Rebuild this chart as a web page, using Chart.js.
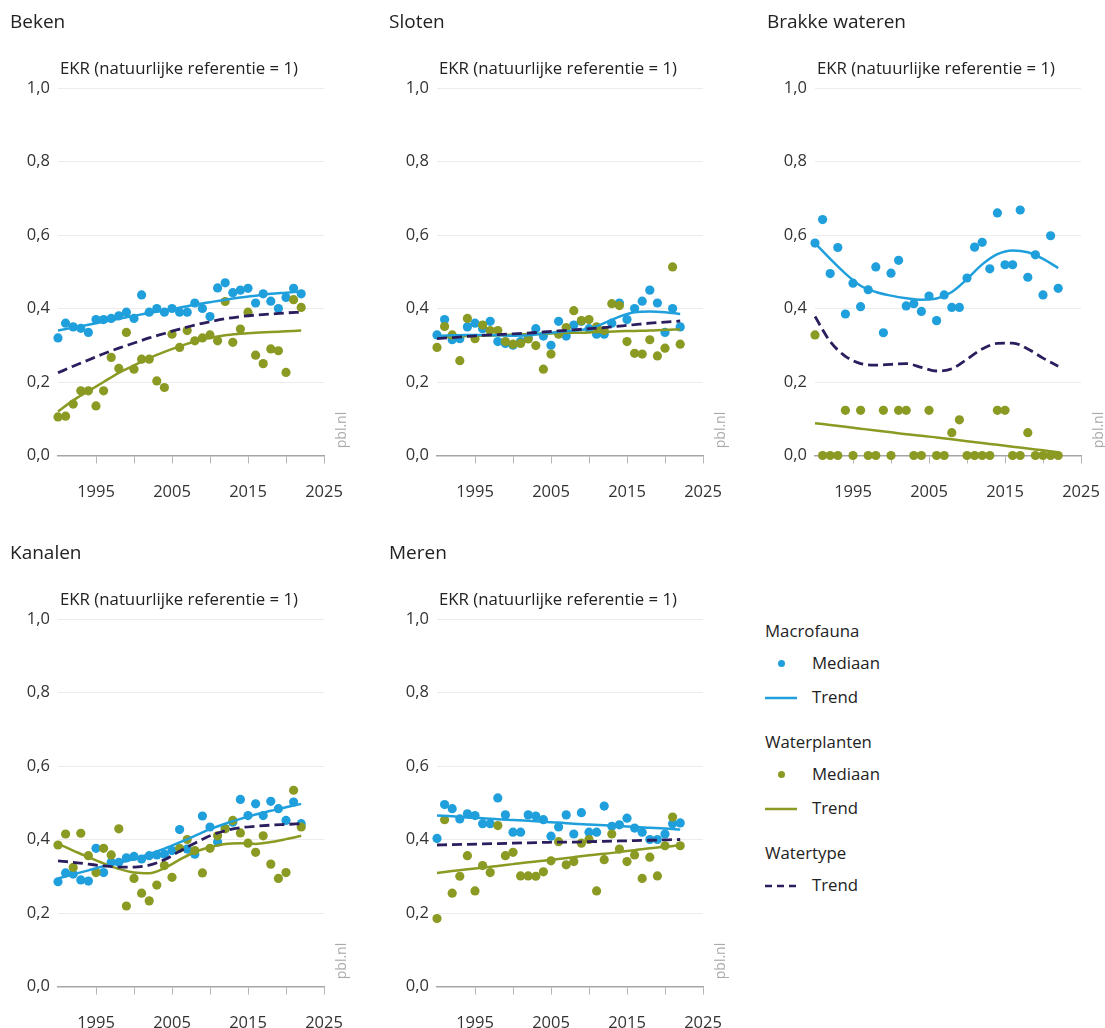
<!DOCTYPE html>
<html>
<head>
<meta charset="utf-8">
<script src="https://cdn.jsdelivr.net/npm/chart.js@4/dist/chart.umd.min.js"></script>
<style>
  html, body { margin: 0; padding: 0; background: #fff; }
  body { width: 1105px; height: 1028px; position: relative; overflow: hidden; font-family: 'Open Sans', 'Noto Sans', sans-serif; color: #222; }
  .panel { position: absolute; width: 370px; height: 500px; }
  .panel canvas { position: absolute; left: 0; top: 0; }
  .ptitle { position: absolute; left: 10px; top: 8px; font-size: 19px; line-height: 26px; color: #222; white-space: nowrap; }
  .ytitle { position: absolute; left: 60px; top: 57px; font-size: 16.8px; line-height: 22px; color: #222; white-space: nowrap; }
  .pbl { position: absolute; left: 321px; top: 422px; width: 40px; text-align: center; font-size: 14px; line-height: 16px; color: #aaa; transform: rotate(-90deg); transform-origin: center; white-space: nowrap; }
  .lg { position: absolute; font-size: 16.8px; line-height: 22px; white-space: nowrap; color: #222; }
  .lgdot { position: absolute; width: 7px; height: 7px; border-radius: 50%; }
  .lgsvg { position: absolute; }
</style>
</head>
<body>

<script>
// ---------- DATA ----------
const years = [1990,1991,1992,1993,1994,1995,1996,1997,1998,1999,2000,2001,2002,2003,2004,2005,2006,2007,2008,2009,2010,2011,2012,2013,2014,2015,2016,2017,2018,2019,2020,2021,2022];
const trendYears = [1990,1992,1994,1996,1998,2000,2002,2004,2006,2008,2010,2012,2014,2016,2018,2020,2022];
const xTickMarks = [1990, 1995, 2000, 2005, 2010, 2015, 2020, 2025];
const xTicks = [1995, 2005, 2015, 2025];
const yTicks = [0.0, 0.2, 0.4, 0.6, 0.8, 1.0];
const panelNames = ['Beken', 'Sloten', 'Brakke wateren', 'Kanalen', 'Meren'];
const yAxisTitle = 'EKR (natuurlijke referentie = 1)';

// Beken
const bekenMacro = [0.32,0.36,0.35,0.346,0.335,0.37,0.37,0.373,0.38,0.39,0.373,0.437,0.39,0.40,0.39,0.40,0.39,0.39,0.415,0.40,0.378,0.456,0.47,0.443,0.45,0.455,0.415,0.44,0.42,0.40,0.43,0.455,0.44];
const bekenPlant = [0.105,0.107,0.14,0.176,0.176,0.135,0.176,0.267,0.237,0.335,0.235,0.262,0.262,0.203,0.185,0.33,0.294,0.34,0.312,0.32,0.328,0.312,0.419,0.308,0.344,0.39,0.273,0.25,0.29,0.285,0.226,0.424,0.403];
const bekenMacroTrend = [0.34,0.348,0.356,0.364,0.372,0.38,0.388,0.395,0.402,0.41,0.417,0.424,0.43,0.435,0.44,0.443,0.446];
const bekenPlantTrend = [0.12,0.15,0.175,0.20,0.225,0.245,0.265,0.282,0.297,0.31,0.32,0.327,0.331,0.334,0.336,0.338,0.34];
const bekenTypeTrend = [0.225,0.243,0.26,0.277,0.292,0.306,0.32,0.332,0.344,0.355,0.364,0.372,0.378,0.382,0.385,0.388,0.39];

// Sloten
const slotenMacro = [0.328,0.37,0.315,0.318,0.35,0.36,0.345,0.365,0.31,0.305,0.30,0.31,0.32,0.345,0.325,0.30,0.365,0.325,0.355,0.365,0.345,0.33,0.33,0.36,0.415,0.37,0.40,0.42,0.45,0.415,0.335,0.40,0.35];
const slotenPlant = [0.294,0.351,0.328,0.258,0.373,0.318,0.355,0.34,0.34,0.31,0.303,0.305,0.317,0.299,0.235,0.276,0.33,0.348,0.394,0.367,0.37,0.35,0.34,0.413,0.408,0.31,0.278,0.276,0.315,0.271,0.292,0.513,0.303];
const slotenMacroTrend = [0.325,0.327,0.328,0.328,0.327,0.326,0.327,0.332,0.336,0.34,0.345,0.36,0.378,0.39,0.392,0.39,0.385];
const slotenPlantTrend = [0.322,0.323,0.325,0.326,0.327,0.329,0.330,0.331,0.333,0.334,0.335,0.337,0.338,0.339,0.340,0.342,0.343];
const slotenTypeTrend = [0.318,0.321,0.324,0.327,0.329,0.331,0.333,0.336,0.339,0.342,0.345,0.348,0.352,0.356,0.36,0.363,0.366];

// Brakke wateren
const brakMacro = [0.578,0.642,0.495,0.566,0.385,0.469,0.405,0.451,0.513,0.334,0.496,0.531,0.407,0.413,0.392,0.434,0.367,0.437,0.403,0.403,0.483,0.567,0.58,0.508,0.66,0.519,0.519,0.668,0.485,0.546,0.437,0.598,0.455];
const brakPlant = [0.328,0,0,0,0.123,0,0.123,0,0,0.123,0,0.123,0.123,0,0,0.123,0,0,0.062,0.097,0,0,0,0,0.123,0.123,0,0,0.062,0,0,0,0];
const brakMacroTrend = [0.578,0.535,0.495,0.462,0.445,0.435,0.428,0.424,0.427,0.445,0.48,0.52,0.548,0.558,0.553,0.535,0.51];
const brakPlantTrend = [0.088,0.083,0.078,0.073,0.068,0.063,0.058,0.054,0.049,0.044,0.039,0.034,0.029,0.024,0.019,0.014,0.009];
const brakTypeTrend = [0.378,0.31,0.27,0.25,0.246,0.248,0.25,0.24,0.23,0.236,0.262,0.29,0.305,0.306,0.29,0.265,0.243];

// Kanalen
const kanMacro = [0.285,0.309,0.306,0.29,0.287,0.376,0.31,0.338,0.338,0.35,0.354,0.347,0.356,0.358,0.36,0.37,0.427,0.374,0.36,0.464,0.434,0.393,0.43,0.447,0.509,0.465,0.497,0.465,0.504,0.484,0.452,0.502,0.443];
const kanPlant = [0.385,0.415,0.324,0.417,0.356,0.31,0.376,0.358,0.429,0.219,0.294,0.254,0.233,0.276,0.329,0.297,0.376,0.40,0.37,0.309,0.376,0.41,0.429,0.452,0.418,0.39,0.365,0.41,0.333,0.294,0.31,0.534,0.434];
const kanMacroTrend = [0.294,0.305,0.316,0.327,0.337,0.347,0.36,0.375,0.392,0.41,0.428,0.443,0.456,0.468,0.478,0.488,0.497];
const kanPlantTrend = [0.388,0.37,0.352,0.335,0.32,0.31,0.308,0.322,0.345,0.366,0.379,0.388,0.39,0.388,0.393,0.401,0.41];
const kanTypeTrend = [0.342,0.338,0.333,0.328,0.325,0.325,0.33,0.345,0.368,0.39,0.41,0.424,0.432,0.436,0.439,0.441,0.443];

// Meren
const merMacro = [0.403,0.495,0.484,0.456,0.47,0.465,0.443,0.443,0.513,0.467,0.42,0.42,0.467,0.464,0.454,0.409,0.434,0.467,0.415,0.473,0.42,0.42,0.491,0.436,0.44,0.458,0.431,0.42,0.40,0.40,0.415,0.443,0.445];
const merPlant = [0.185,0.454,0.254,0.30,0.356,0.26,0.329,0.31,0.438,0.356,0.365,0.301,0.301,0.30,0.312,0.342,0.394,0.331,0.34,0.39,0.40,0.26,0.345,0.415,0.374,0.34,0.358,0.294,0.352,0.301,0.383,0.461,0.383];
const merMacroTrend = [0.465,0.463,0.46,0.458,0.455,0.453,0.451,0.448,0.446,0.443,0.441,0.439,0.437,0.434,0.432,0.43,0.427];
const merPlantTrend = [0.309,0.314,0.319,0.323,0.328,0.333,0.338,0.342,0.347,0.352,0.357,0.361,0.366,0.371,0.376,0.38,0.385];
const merTypeTrend = [0.385,0.386,0.387,0.388,0.389,0.39,0.391,0.392,0.393,0.393,0.394,0.395,0.396,0.397,0.398,0.399,0.40];

// ---------- STYLE ----------
const BLUE = '#1f9fdb';
const GREEN = '#8a9a22';
const DARK = '#2c1e5e';
const FONT = "'Open Sans', 'Noto Sans', sans-serif";

const panels = [
  { name: panelNames[0], left: 0,   top: 0,   m: bekenMacro, p: bekenPlant, mt: bekenMacroTrend, pt: bekenPlantTrend, tt: bekenTypeTrend },
  { name: panelNames[1], left: 379, top: 0,   m: slotenMacro, p: slotenPlant, mt: slotenMacroTrend, pt: slotenPlantTrend, tt: slotenTypeTrend },
  { name: panelNames[2], left: 757, top: 0,   m: brakMacro, p: brakPlant, mt: brakMacroTrend, pt: brakPlantTrend, tt: brakTypeTrend },
  { name: panelNames[3], left: 0,   top: 531, m: kanMacro, p: kanPlant, mt: kanMacroTrend, pt: kanPlantTrend, tt: kanTypeTrend },
  { name: panelNames[4], left: 379, top: 531, m: merMacro, p: merPlant, mt: merMacroTrend, pt: merPlantTrend, tt: merTypeTrend }
];

const pts = (xs, ys) => xs.map((x, i) => ({ x: x, y: ys[i] }));

panels.forEach((pn, idx) => {
  const div = document.createElement('div');
  div.className = 'panel';
  div.style.left = pn.left + 'px';
  div.style.top = pn.top + 'px';
  const cv = document.createElement('canvas');
  cv.width = 370; cv.height = 500;
  cv.style.width = '370px'; cv.style.height = '500px';
  div.appendChild(cv);
  const t = document.createElement('div'); t.className = 'ptitle'; t.textContent = pn.name; div.appendChild(t);
  const yt = document.createElement('div'); yt.className = 'ytitle'; yt.textContent = yAxisTitle; div.appendChild(yt);
  const pb = document.createElement('div'); pb.className = 'pbl'; pb.textContent = 'pbl.nl'; div.appendChild(pb);
  document.body.appendChild(div);

  new Chart(cv, {
    type: 'scatter',
    data: {
      datasets: [
        { label: 'Watertype Trend', data: pts(trendYears, pn.tt), showLine: true, borderColor: DARK, borderWidth: 2.8, borderDash: [10, 5], pointRadius: 0, cubicInterpolationMode: 'monotone', order: 0, clip: false },
        { label: 'Macrofauna Trend', data: pts(trendYears, pn.mt), showLine: true, borderColor: BLUE, borderWidth: 2.5, pointRadius: 0, cubicInterpolationMode: 'monotone', order: 1, clip: false },
        { label: 'Waterplanten Trend', data: pts(trendYears, pn.pt), showLine: true, borderColor: GREEN, borderWidth: 2.5, pointRadius: 0, cubicInterpolationMode: 'monotone', order: 1, clip: false },
        { label: 'Waterplanten Mediaan', data: pts(years, pn.p), backgroundColor: GREEN, borderWidth: 0, pointRadius: 4.6, order: 2, clip: false },
        { label: 'Macrofauna Mediaan', data: pts(years, pn.m), backgroundColor: BLUE, borderWidth: 0, pointRadius: 4.6, order: 3, clip: false }
      ]
    },
    options: {
      responsive: false,
      animation: false,
      devicePixelRatio: 1,
      layout: { padding: { top: 88, left: 0, right: 46, bottom: 0 } },
      plugins: { legend: { display: false }, tooltip: { enabled: false } },
      scales: {
        x: {
          type: 'linear', min: 1990, max: 2025,
          afterFit: s => { s.height = 44.5; },
          afterBuildTicks: s => { s.ticks = xTickMarks.map(v => ({ value: v })); },
          ticks: {
            autoSkip: false, maxRotation: 0, padding: 19,
            color: '#333', font: { family: FONT, size: 16.5 },
            callback: v => (xTicks.includes(v) ? String(v) : '')
          },
          grid: {
            drawOnChartArea: false, drawTicks: true, tickLength: 8, lineWidth: 1,
            color: '#aaa',
            tickColor: c => (c.tick && c.tick.value === 1990 ? 'rgba(0,0,0,0)' : '#b5b5b5')
          },
          border: { display: true, color: '#a5a5a5', width: 1.5 }
        },
        y: {
          min: 0, max: 1,
          afterFit: s => { s.width = 58; },
          afterBuildTicks: s => { s.ticks = yTicks.map(v => ({ value: v })); },
          ticks: {
            padding: 8, color: '#333', font: { family: FONT, size: 16.5 },
            callback: v => Number(v).toFixed(1).replace('.', ',')
          },
          grid: { drawTicks: false, color: c => (c.tick && c.tick.value === 0 ? 'rgba(0,0,0,0)' : '#ececec'), lineWidth: 1 },
          border: { display: false }
        }
      }
    }
  });
});

// ---------- LEGEND ----------
const legendItems = [
  { type: 'head', text: 'Macrofauna', y: 632 },
  { type: 'dot', color: BLUE, text: 'Mediaan', y: 664 },
  { type: 'line', color: BLUE, text: 'Trend', y: 698 },
  { type: 'head', text: 'Waterplanten', y: 743 },
  { type: 'dot', color: GREEN, text: 'Mediaan', y: 775 },
  { type: 'line', color: GREEN, text: 'Trend', y: 809 },
  { type: 'head', text: 'Watertype', y: 854 },
  { type: 'dash', color: DARK, text: 'Trend', y: 886 }
];
const SVGNS = 'http://www.w3.org/2000/svg';
legendItems.forEach(it => {
  const tx = document.createElement('div');
  tx.className = 'lg';
  tx.textContent = it.text;
  tx.style.left = (it.type === 'head' ? 765 : 812) + 'px';
  tx.style.top = (it.y - 12) + 'px';
  document.body.appendChild(tx);
  if (it.type === 'dot') {
    const d = document.createElement('div');
    d.className = 'lgdot';
    d.style.background = it.color;
    d.style.left = '778px'; d.style.top = (it.y - 4) + 'px';
    document.body.appendChild(d);
  } else if (it.type === 'line' || it.type === 'dash') {
    const s = document.createElementNS(SVGNS, 'svg');
    s.setAttribute('class', 'lgsvg');
    s.setAttribute('width', '34'); s.setAttribute('height', '6');
    s.style.left = '764px'; s.style.top = (it.y - 3) + 'px';
    const l = document.createElementNS(SVGNS, 'line');
    l.setAttribute('x1', '1'); l.setAttribute('x2', '33');
    l.setAttribute('y1', '3'); l.setAttribute('y2', '3');
    l.setAttribute('stroke', it.color); l.setAttribute('stroke-width', '2.5');
    if (it.type === 'dash') l.setAttribute('stroke-dasharray', '7,5');
    s.appendChild(l);
    document.body.appendChild(s);
  }
});
</script>
</body>
</html>
